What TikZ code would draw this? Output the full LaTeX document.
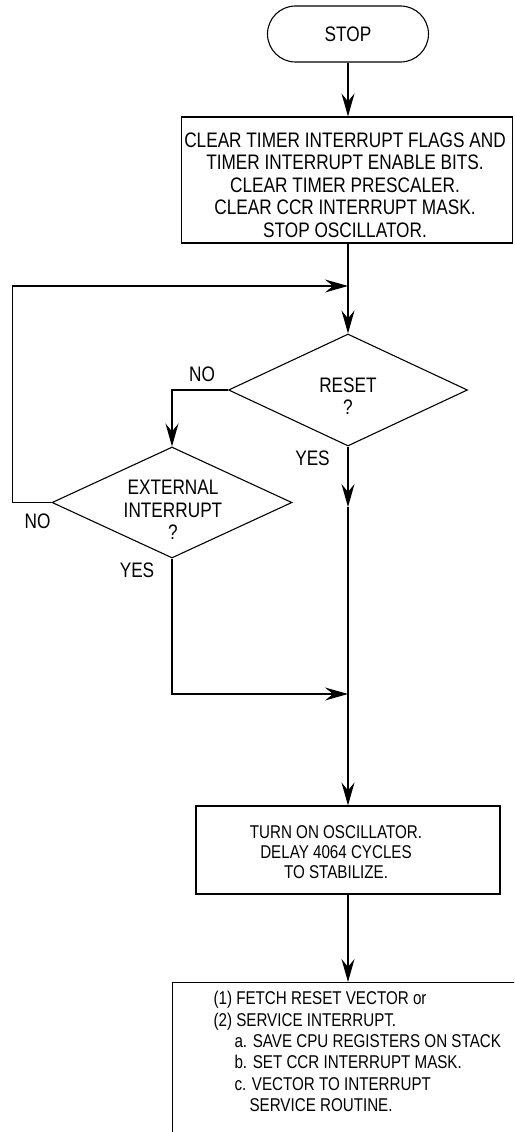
\documentclass[tikz,border=0pt]{standalone}
\usepackage{fontspec}
\setmainfont{Liberation Sans}[FakeStretch=0.82]
\usetikzlibrary{shapes.geometric,arrows.meta}
\begin{document}
\begin{tikzpicture}[x=1pt,y=-1pt, line width=1.1pt,
  bigfont/.style={font=\fontsize{21}{22.5}\selectfont},
  smallfont/.style={font=\fontsize{18.5}{20}\selectfont},
  listfont/.style={font=\fontsize{18.5}{21.3}\selectfont},
  arr/.style={-{Stealth[length=23pt,width=13pt,inset=8pt]}},
  procbox/.style={draw, rectangle, inner sep=0pt},
  decision/.style={draw, diamond, aspect=2.16, inner sep=0pt},
  txt/.style={inner sep=0pt, align=center},
  lbl/.style={bigfont, inner sep=0pt}]
\useasboundingbox (0,0) rectangle (514,1132);
\clip (0,0) rectangle (514,1132);

% terminal
\node[draw, rounded corners=28pt, minimum width=161pt, minimum height=56pt, inner sep=0pt, bigfont] (stop) at (348,34) {STOP};

% first process box
\node[procbox, minimum width=331pt, minimum height=126pt] (box1) at (347,180) {};
\node[txt, bigfont] (box1txt) at (345,185) {CLEAR TIMER INTERRUPT FLAGS AND\\TIMER INTERRUPT ENABLE BITS.\\CLEAR TIMER PRESCALER.\\CLEAR CCR INTERRUPT MASK.\\STOP OSCILLATOR.};

% decisions
\node[decision, minimum width=239pt, minimum height=112pt] (reset) at (348,390) {};
\node[txt, bigfont] (resettxt) at (348,396) {RESET\\?};
\node[decision, minimum width=240pt, minimum height=111pt] (ext) at (172,502.5) {};
\node[txt, bigfont] (exttxt) at (173,510) {EXTERNAL\\INTERRUPT\\?};

% second process box
\node[procbox, minimum width=304pt, minimum height=88pt] (box2) at (348,850) {};
\node[txt, smallfont] (box2txt) at (336,852) {TURN ON OSCILLATOR.\\DELAY 4064 CYCLES\\TO STABILIZE.};

% third box (cut off by the picture border)
\node[procbox, anchor=north west, minimum width=420pt, minimum height=220pt] (box3) at (172,982) {};
\node[inner sep=0pt, align=left, anchor=north west, listfont] (box3txt) at (213,991) {(1) FETCH RESET VECTOR or\\(2) SERVICE INTERRUPT.\\\hspace*{21pt}a. SAVE CPU REGISTERS ON STACK\\\hspace*{21pt}b. SET CCR INTERRUPT MASK.\\\hspace*{21pt}c. VECTOR TO INTERRUPT\\\hspace*{36pt}SERVICE ROUTINE.};

% junctions
\coordinate (j1) at (348,286);
\coordinate (j2) at (348,694);
\coordinate (m1) at (348,507);

% connectors
\draw[arr] (stop.south) -- (stop.south |- box1.north);
\draw[arr] (box1.south -| stop.south) -- (reset.north);
\draw[arr] (ext.west) -- ++(-39,0) |- (j1);
\draw[arr] (reset.west) -| (ext.north);
\draw[arr] (reset.south) -- (m1);
\draw[arr] (m1) -- (box2.north);
\draw[arr] (ext.south) |- (j2);
\draw[arr] (box2.south) -- (box2.south |- box3.north);

% labels
\node[lbl] (no1) at (202,374) {NO};
\node[lbl] (yes1) at (312.5,458) {YES};
\node[lbl] (no2) at (37.5,521) {NO};
\node[lbl] (yes2) at (137,570) {YES};
\end{tikzpicture}
\end{document}
